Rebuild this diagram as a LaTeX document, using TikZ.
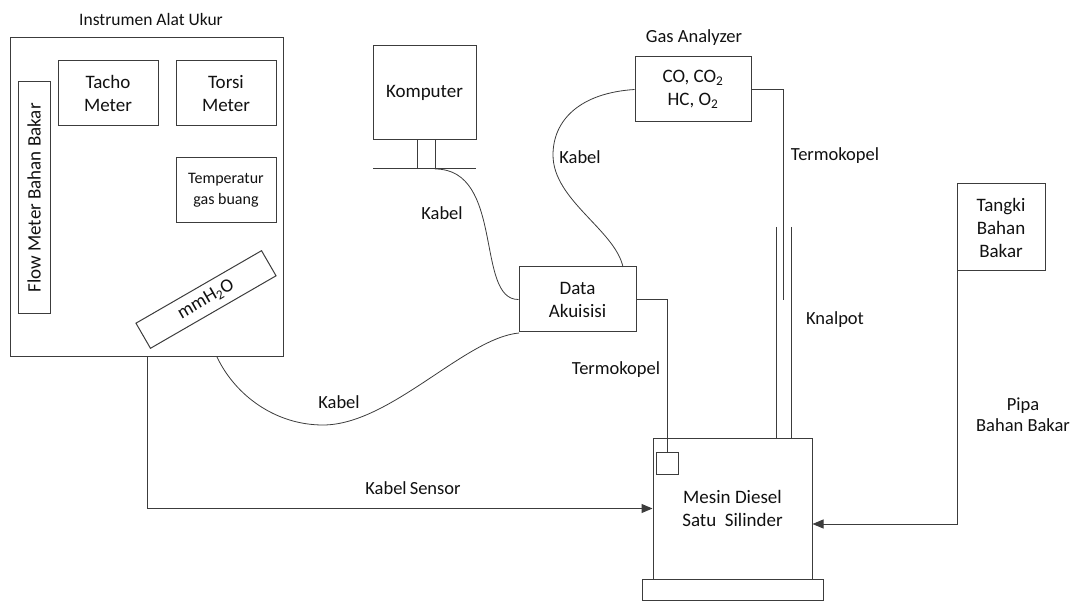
\documentclass[tikz,border=0pt]{standalone}
\usepackage{fontspec}
\setmainfont{Carlito}
\usetikzlibrary{arrows.meta}
\definecolor{lc}{HTML}{3C3C3C}
\definecolor{tc}{HTML}{111111}
\begin{document}
\begin{tikzpicture}[x=1pt,y=-1pt,
  box/.style={draw=lc, line width=1pt, align=center, inner sep=0pt, text=tc, font=\fontsize{19}{23}\selectfont},
  lbl/.style={align=center, inner sep=0pt, text=tc, font=\fontsize{18.5}{21}\selectfont},
  wire/.style={draw=lc, line width=1pt},
  cable/.style={draw=lc, line width=0.8pt},
  arr/.style={draw=lc, line width=1pt, -{Triangle[length=11pt,width=9pt]}}]
\useasboundingbox (0,0) rectangle (1071,601);

% instrument panel
\node[lbl, font=\fontsize{17.5}{21}\selectfont] (insttitle) at (151,19) {Instrumen Alat Ukur};
\node[box, minimum width=273, minimum height=319] (inst) at (146.5,197.5) {};
\node[box, minimum width=100, minimum height=65] (tacho) at (108,93.5) {Tacho\\Meter};
\node[box, minimum width=100, minimum height=65] (torsi) at (226,93.5) {Torsi\\Meter};
\node[box, minimum width=100, minimum height=65, font=\fontsize{16}{21}\selectfont] (temp) at (226,190.5) {Temperatur\\gas buang};
\node[box, minimum width=232, minimum height=32, rotate=90] (flow) at (34,198) {Flow Meter Bahan Bakar};
\node[box, minimum width=145, minimum height=29, rotate=30] (mmh) at (206,299.5) {mmH\textsubscript{2}O};

% computer
\node[box, minimum width=103, minimum height=94] (komp) at (424.5,93) {Komputer};
\coordinate (st1) at (417,169);
\coordinate (st2) at (435,169);
\coordinate (shl) at (373,169);
\coordinate (shr) at (476,169);
\draw[wire] (komp.south -| st1) -- (st1);
\draw[wire] (komp.south -| st2) -- (st2);
\draw[wire] (shl) -- (shr);

% data acquisition
\node[box, minimum width=117, minimum height=65] (data) at (577.5,299.5) {Data\\Akuisisi};

% gas analyzer
\node[lbl] (gastitle) at (694,38) {Gas Analyzer};
\node[box, minimum width=116, minimum height=65] (gas) at (693,89.5) {CO, CO\textsubscript{2}\\HC, O\textsubscript{2}};

% tank
\node[box, minimum width=88, minimum height=87] (tank) at (1001,227.5) {Tangki\\Bahan\\Bakar};

% engine
\node[box, minimum width=159, minimum height=141] (engine) at (732.5,508.5) {Mesin Diesel\\Satu\ \ Silinder};
\node[box, minimum width=181, minimum height=21] (base) at (732.5,589.5) {};
\node[box, minimum width=22, minimum height=22] (tcq) at (667,463) {};

% cables
\draw[cable] (st2) .. controls (505,169) and (475,300) .. (data.west);
\node[lbl] (kab1) at (442,213) {Kabel};

\coordinate (dtop) at (623,267);
\draw[cable] (gas.west) .. controls (580,93) and (553,120) .. (553,155)
  .. controls (553,200) and (615,230) .. (dtop);
\node[lbl] (kab2) at (580,157) {Kabel};

\coordinate (ibot) at (217,357);
\coordinate (dbl) at (519,333);
\draw[cable] (ibot) .. controls (235,395) and (275,425) .. (323,425)
  .. controls (390,425) and (465,338) .. (dbl);
\node[lbl] (kab3) at (339,402) {Kabel};

% kabel sensor
\coordinate (ks0) at (147,357);
\coordinate (ks1) at (147,508.5);
\draw[arr] (ks0) -- (ks1) -- (engine.west);
\node[lbl] (kabs) at (413,488) {Kabel\,Sensor};

% thermocouple data -> engine
\coordinate (t1) at (667,299.5);
\draw[wire] (data.east) -- (t1) -- (tcq.north);
\node[lbl] (term2) at (616,370) {Termokopel};

% thermocouple gas analyzer
\coordinate (g1) at (783,89.5);
\coordinate (g2) at (783,300);
\draw[wire] (gas.east) -- (g1) -- (g2);
\node[lbl] (term1) at (835,156) {Termokopel};

% knalpot
\coordinate (k1) at (776,227);
\coordinate (k2) at (791,227);
\draw[wire] (k1) -- (engine.north -| k1);
\draw[wire] (k2) -- (engine.north -| k2);
\node[lbl] (knal) at (835,320) {Knalpot};

% fuel pipe
\coordinate (p1) at (957,249);
\coordinate (p2) at (957,524);
\draw[arr] (p1) -- (p2) -- (engine.east |- p2);
\node[lbl] (pipa) at (1023,415) {Pipa\\Bahan Bakar};
\end{tikzpicture}
\end{document}
